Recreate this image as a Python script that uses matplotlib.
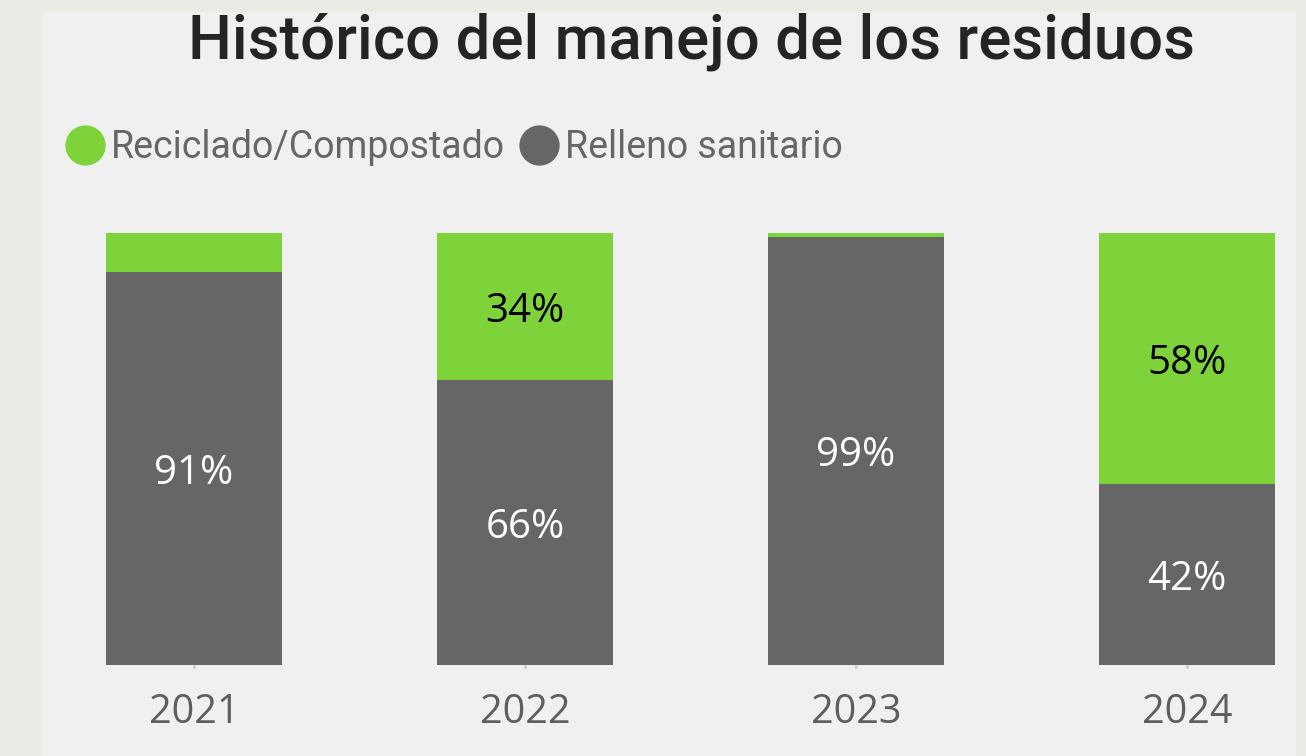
import matplotlib.pyplot as plt
from matplotlib.lines import Line2D
from matplotlib.patches import Rectangle
import numpy as np

years = ["2021", "2022", "2023", "2024"]
relleno = [91, 66, 99, 42]
reciclado = [9, 34, 1, 58]

GREEN = "#7ed33a"
GRAY = "#666666"
BG = "#f0f0f0"

W, H = 1306, 756
fig = plt.figure(figsize=(W / 100, H / 100), dpi=100)
fig.patch.set_facecolor("#ebebe6")
fig.add_artist(Rectangle((42 / W, 0), (1296 - 42) / W, 1 - 12 / H,
                         transform=fig.transFigure, facecolor=BG,
                         edgecolor="none", zorder=0))

# axes: bars occupy y 233..665 px, first bar center x=194, step 331 px
ax = fig.add_axes([42 / W, 1 - 665 / H, (1306 - 42) / W, (665 - 233) / H])
ax.set_facecolor("none")
step = 331
ax.set_xlim((42 - 194) / step, (1306 - 194) / step)
ax.set_ylim(0, 100)

x = np.arange(len(years))
width = 176 / step
ax.bar(x, relleno, width, color=GRAY, label="Relleno sanitario")
ax.bar(x, reciclado, width, bottom=relleno, color=GREEN,
       label="Reciclado/Compostado")

num_font = "Open Sans"
lbl = dict(ha="center", va="center", fontsize=29, family=num_font,
           xytext=(0, -5), textcoords="offset pixels")
for xi, v in zip(x, relleno):
    if v >= 10:
        ax.annotate(f"{v}%", (xi, v / 2), color="white", **lbl)
for xi, b, v in zip(x, relleno, reciclado):
    if v >= 10:
        ax.annotate(f"{v}%", (xi, b + v / 2), color="black", **lbl)

ax.set_xticks(x)
ax.set_xticklabels(years, fontsize=28.5, color="#605e5c", family=num_font)
ax.tick_params(axis="x", length=2, width=2, color="#c8c8c8", pad=18)
ax.set_yticks([])
for s in ax.spines.values():
    s.set_visible(False)

fig.text(692 / W, 1 - 42 / H, "Histórico del manejo de los residuos",
         ha="center", va="center", fontsize=44.5, color="#252423",
         family="Roboto", weight="medium")

handles = [
    Line2D([], [], marker="o", linestyle="none", markersize=29,
           markerfacecolor=GREEN, markeredgecolor="none",
           label="Reciclado/Compostado"),
    Line2D([], [], marker="o", linestyle="none", markersize=29,
           markerfacecolor=GRAY, markeredgecolor="none",
           label="Relleno sanitario"),
]
fig.legend(handles=handles, loc="center left",
           bbox_to_anchor=(66 / W, 1 - 148 / H), ncol=2, frameon=False,
           handletextpad=0.2, columnspacing=0.4, handlelength=1.0,
           borderpad=0, borderaxespad=0,
           prop={"family": "Roboto", "size": 27}, labelcolor="#666666")

fig.savefig("out.png", dpi=100, facecolor=fig.get_facecolor())
